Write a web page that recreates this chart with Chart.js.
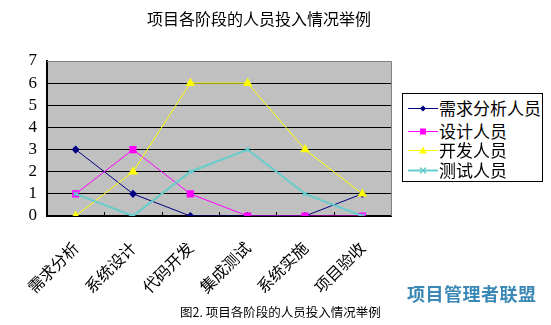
<!DOCTYPE html>
<html><head><meta charset="utf-8">
<script src="https://cdn.jsdelivr.net/npm/chart.js@4/dist/chart.umd.min.js"></script>
<style>
html,body{margin:0;padding:0;background:#fff;}
#wrap{position:relative;width:551px;height:325px;overflow:hidden;font-family:"Noto Sans CJK SC",sans-serif;}
canvas{position:absolute;left:0;top:0;}
.t{position:absolute;white-space:nowrap;color:#000;}
#title{left:0;width:518px;top:6px;text-align:center;font-size:16px;}
#legend{position:absolute;left:402px;top:93px;width:139px;height:87px;border:1px solid #000;background:#fff;}
.row{position:absolute;left:0;height:20px;font-size:17px;line-height:20px;}
.row canvas{position:absolute;left:5px;top:0;}
.row span{position:absolute;left:36px;top:0;white-space:nowrap;}
#foot{left:180px;top:302px;font-size:12.5px;}
#brand{left:407px;top:280px;font-size:18px;font-weight:bold;color:#3a88b6;letter-spacing:0.5px;}
</style></head>
<body><div id="wrap">
<canvas id="c" width="551" height="325"></canvas>
<div class="t" id="title">项目各阶段的人员投入情况举例</div>
<div id="legend"></div>
<div class="t" id="brand">项目管理者联盟</div>
<div class="t" id="foot">图2. 项目各阶段的人员投入情况举例</div>
</div>
<script>
const categories = ["需求分析","系统设计","代码开发","集成测试","系统实施","项目验收"];
const seriesNames = ["需求分析人员","设计人员","开发人员","测试人员"];
const demandStaff = [3,1,0,0,0,1];
const designStaff = [1,3,1,0,0,0];
const devStaff = [0,2,6,6,3,1];
const testStaff = [1,0,2,3,1,0];
const yTicks = [0,1,2,3,4,5,6,7];

const colors = ["#000080","#ff00ff","#ffff00","#66cccc"];
const widths = [1,1,1,2];
const styles = ["rectRot","rect","triangle","crossRot"];
const radii = [3,4,4,3];
const values = [demandStaff,designStaff,devStaff,testStaff];

const L=47,R=391,T=61,B=216;

const datasets = seriesNames.map((n,i)=>({
  label:n, data:values[i], borderColor:colors[i], backgroundColor:colors[i],
  borderWidth:widths[i], pointStyle:styles[i], pointRadius:radii[i],
  pointBorderColor:colors[i], pointBackgroundColor:colors[i], pointBorderWidth:1.5,
  tension:0, fill:false, order:seriesNames.length-i
}));

const areaPlugin = {
  id:'area',
  beforeDraw(chart){
    const {ctx, chartArea:a} = chart;
    ctx.save(); ctx.fillStyle='#c0c0c0';
    ctx.fillRect(a.left,a.top,a.right-a.left,a.bottom-a.top);
    ctx.restore();
  },
  beforeDatasetsDraw(chart){
    const {ctx, chartArea:a, scales} = chart;
    ctx.save();
    ctx.strokeStyle='#808080'; ctx.lineWidth=1;
    ctx.beginPath(); ctx.moveTo(a.left,a.top+0.5); ctx.lineTo(a.right+0.5,a.top+0.5); ctx.lineTo(a.right+0.5,a.bottom); ctx.stroke();
    ctx.strokeStyle='#000';
    const x=scales.x;
    for(let i=1;i<categories.length;i++){
      const px=Math.round((x.getPixelForValue(i-1)+x.getPixelForValue(i))/2)+0.5;
      ctx.beginPath(); ctx.moveTo(px,a.bottom); ctx.lineTo(px,a.bottom-4); ctx.stroke();
    }
    ctx.restore();
  }
};

new Chart(document.getElementById('c'),{
  type:'line',
  data:{labels:categories, datasets},
  options:{
    responsive:false, animation:false,
    layout:{padding:{left:0,top:T,right:551-R,bottom:0}},
    plugins:{legend:{display:false},title:{display:false},tooltip:{enabled:false}},
    scales:{
      x:{offset:true,
        grid:{display:true,drawOnChartArea:false,drawTicks:false},
        border:{color:'#000',width:2},
        ticks:{autoSkip:false,maxRotation:45,minRotation:45,padding:22,color:'#000',font:{family:'"Noto Sans CJK SC"',size:16}},
        afterFit(s){s.height=325-B;}
      },
      y:{min:0,max:7,
        afterBuildTicks(s){s.ticks=yTicks.map(v=>({value:v}));},
        grid:{drawTicks:false,color:c=>(c.tick.value===7||c.tick.value===0)?'rgba(0,0,0,0)':'#000',lineWidth:1},
        border:{color:'#000',width:2},
        ticks:{autoSkip:false,stepSize:1,padding:10,color:'#000',font:{family:'"Liberation Serif"',size:17}},
        afterFit(s){s.width=L;}
      }
    }
  },
  plugins:[areaPlugin]
});

// HTML legend
const lg=document.getElementById('legend');
const tops=[4,27,46,66];
seriesNames.forEach((n,i)=>{
  const r=document.createElement('div'); r.className='row'; r.style.top=tops[i]+'px'; r.style.width='139px';
  const cv=document.createElement('canvas'); cv.width=30; cv.height=20; r.appendChild(cv);
  const g=cv.getContext('2d'); g.strokeStyle=colors[i]; g.lineWidth=widths[i];
  g.beginPath(); g.moveTo(0,10.5); g.lineTo(30,10.5); g.stroke();
  g.fillStyle=colors[i];
  const cx=15,cy=10.5,rr=radii[i];
  g.beginPath();
  if(styles[i]==='rectRot'){g.moveTo(cx,cy-rr);g.lineTo(cx+rr,cy);g.lineTo(cx,cy+rr);g.lineTo(cx-rr,cy);g.closePath();g.fill();}
  else if(styles[i]==='rect'){g.fillRect(cx-3,cy-3,6,6);}
  else if(styles[i]==='triangle'){g.moveTo(cx,cy-4);g.lineTo(cx+4,cy+3);g.lineTo(cx-4,cy+3);g.closePath();g.fill();}
  else {g.lineWidth=1.5;g.moveTo(cx-3,cy-3);g.lineTo(cx+3,cy+3);g.moveTo(cx+3,cy-3);g.lineTo(cx-3,cy+3);g.stroke();}
  const s=document.createElement('span'); s.textContent=n; r.appendChild(s);
  lg.appendChild(r);
});
</script>
</body></html>
